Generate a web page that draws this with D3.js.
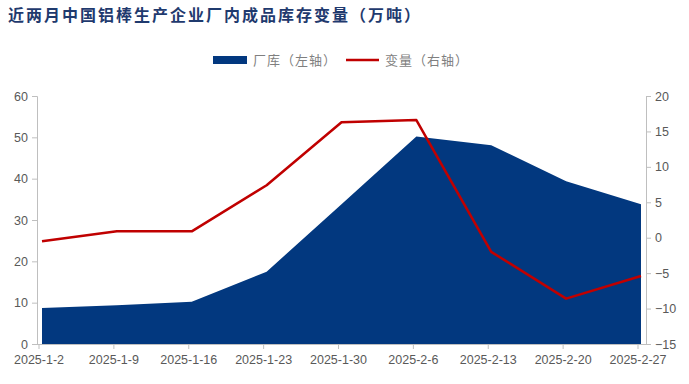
<!DOCTYPE html>
<html lang="zh">
<head>
<meta charset="utf-8">
<style>
  html, body { margin: 0; padding: 0; background: #fff; }
  text { font-family: "Liberation Sans", Arial, sans-serif; }
  .cjk { font-family: "Noto Sans CJK SC", sans-serif; }
</style>
</head>
<body>
<svg width="689" height="384"></svg>
<script src="https://cdn.jsdelivr.net/npm/d3@7/dist/d3.min.js"></script>
<script>
const dates = ["2025-1-2", "2025-1-9", "2025-1-16", "2025-1-23", "2025-1-30", "2025-2-6", "2025-2-13", "2025-2-20", "2025-2-27"]
const stock = [8.7, 9.4, 10.2, 17.5, 33.8, 50.2, 48.1, 39.4, 33.8]
const change = [-0.5, 0.9, 0.9, 7.4, 16.3, 16.6, -2.0, -8.6, -5.4]
const leftTicks = [0, 10, 20, 30, 40, 50, 60]
const rightTicks = [-15, -10, -5, 0, 5, 10, 15, 20]

const svg = d3.select("svg")
const plotTop = 96, plotBottom = 344, plotLeft = 37, plotRight = 646

const x = d3.scalePoint().domain(dates).range([42, 641])
const yL = d3.scaleLinear().domain([0, 60]).range([plotBottom, plotTop])
const yR = d3.scaleLinear().domain([-15, 20]).range([plotBottom, plotTop])

// title
svg.append("text")
  .attr("class", "cjk")
  .attr("x", 8).attr("y", 21)
  .style("font-size", "16px").style("font-weight", "bold")
  .style("letter-spacing", "2px")
  .attr("fill", "#1f3a6e")
  .text("近两月中国铝棒生产企业厂内成品库存变量（万吨）")

// legend
const lg = svg.append("g")
lg.append("rect").attr("x", 213).attr("y", 56).attr("width", 34).attr("height", 8).attr("fill", "#02387f")
lg.append("text").attr("class", "cjk").attr("x", 253).attr("y", 65)
  .style("font-size", "13px").style("letter-spacing", "1px").attr("fill", "#7f7f7f").text("厂库（左轴）")
lg.append("line").attr("x1", 346).attr("x2", 379).attr("y1", 60).attr("y2", 60)
  .attr("stroke", "#c00000").attr("stroke-width", 2.5)
lg.append("text").attr("class", "cjk").attr("x", 385).attr("y", 65)
  .style("font-size", "13px").style("letter-spacing", "1px").attr("fill", "#7f7f7f").text("变量（右轴）")

// area
svg.append("path")
  .datum(stock)
  .attr("fill", "#02387f")
  .attr("d", d3.area()
    .x((d, i) => x(dates[i]))
    .y0(yL(0))
    .y1(d => yL(d)))

// line
svg.append("path")
  .datum(change)
  .attr("fill", "none")
  .attr("stroke", "#c00000")
  .attr("stroke-width", 2.5)
  .attr("stroke-linejoin", "round")
  .attr("d", d3.line()
    .x((d, i) => x(dates[i]))
    .y(d => yR(d)))

function styleAxis (g) {
  g.selectAll("path, line").attr("stroke", "#bfbfbf")
  g.selectAll("text").attr("fill", "#595959").style("font-size", "12.5px")
}

svg.append("g")
  .attr("transform", `translate(${plotLeft},0)`)
  .call(d3.axisLeft(yL).tickValues(leftTicks).tickSizeOuter(0).tickSize(5).tickPadding(4))
  .call(styleAxis)

svg.append("g")
  .attr("transform", `translate(${plotRight},0)`)
  .call(d3.axisRight(yR).tickValues(rightTicks).tickSizeOuter(0).tickSize(5).tickPadding(4))
  .call(styleAxis)

const xAxis = svg.append("g")
  .attr("transform", `translate(0,${plotBottom})`)
  .call(d3.axisBottom(x).tickSizeOuter(0).tickSize(5).tickPadding(6))
  .call(styleAxis)
xAxis.select(".domain").attr("d", `M${plotLeft},0.5H${plotRight}`)
xAxis.selectAll(".tick").attr("transform", d => `translate(${x(d) - 3},0)`)
</script>
</body>
</html>
